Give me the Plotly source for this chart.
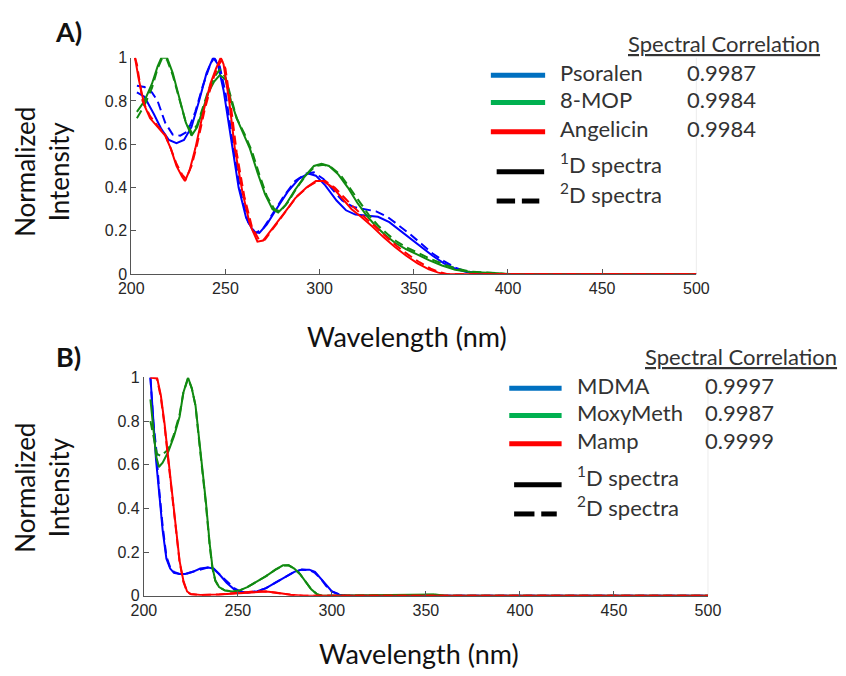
import plotly.graph_objects as go

# ---------------- DATA ----------------
ticks_x = [200, 250, 300, 350, 400, 450, 500]
ticks_y = [0, 0.2, 0.4, 0.6, 0.8, 1]
ticks_y_text = ["0", "0.2", "0.4", "0.6", "0.8", "1"]

# Panel A
psoralen_1d_wl = [203, 207, 212, 216, 220, 224, 228, 232, 236, 240, 243.5, 246, 249, 253, 257, 261, 265, 268, 272, 277, 283, 289, 294, 298, 303, 309, 314, 319, 325, 331, 337, 343, 349, 354, 360, 366, 372, 378, 385, 395, 500]
psoralen_1d = [0.84, 0.82, 0.74, 0.67, 0.62, 0.605, 0.62, 0.68, 0.80, 0.93, 1.0, 0.97, 0.85, 0.62, 0.40, 0.26, 0.195, 0.19, 0.23, 0.30, 0.38, 0.44, 0.465, 0.455, 0.41, 0.34, 0.295, 0.275, 0.27, 0.265, 0.24, 0.20, 0.16, 0.125, 0.085, 0.05, 0.025, 0.01, 0.003, 0, 0]
psoralen_2d_wl = [203, 207, 211, 214, 218, 222, 226, 230, 234, 238, 242, 244, 247, 250, 254, 258, 262, 266, 270, 275, 281, 287, 293, 297, 302, 307, 312, 318, 324, 330, 336, 342, 348, 354, 360, 366, 372, 378, 386, 395, 500]
psoralen_2d = [0.87, 0.865, 0.84, 0.80, 0.70, 0.645, 0.64, 0.66, 0.75, 0.87, 0.97, 1.0, 0.96, 0.84, 0.60, 0.38, 0.24, 0.19, 0.21, 0.28, 0.36, 0.43, 0.465, 0.47, 0.44, 0.39, 0.34, 0.31, 0.30, 0.29, 0.265, 0.225, 0.185, 0.14, 0.095, 0.06, 0.03, 0.012, 0.003, 0, 0]

mop_1d_wl = [203, 207, 211, 214, 216, 219, 222, 226, 229, 232, 235, 238, 241, 244, 247, 250, 253, 256, 259, 263, 267, 271, 275, 278, 282, 287, 292, 297, 301, 305, 310, 315, 320, 325, 330, 335, 340, 346, 352, 358, 365, 372, 380, 388, 395, 400, 500]
mop_1d = [0.75, 0.80, 0.88, 0.96, 1.0, 1.0, 0.93, 0.80, 0.70, 0.64, 0.68, 0.76, 0.84, 0.89, 0.92, 0.90, 0.80, 0.72, 0.66, 0.58, 0.47, 0.37, 0.30, 0.285, 0.32, 0.39, 0.45, 0.50, 0.51, 0.50, 0.46, 0.40, 0.33, 0.27, 0.22, 0.18, 0.145, 0.115, 0.09, 0.065, 0.04, 0.02, 0.01, 0.008, 0.004, 0, 0]
mop_2d_wl = [203, 207, 211, 214, 216.5, 219, 222, 226, 229, 232, 235, 238, 241, 244, 247, 250, 253, 256, 260, 264, 268, 272, 276, 279, 283, 288, 293, 298, 302, 306, 311, 316, 321, 326, 331, 336, 341, 347, 353, 359, 366, 373, 380, 388, 396, 402, 500]
mop_2d = [0.72, 0.78, 0.86, 0.95, 1.0, 0.99, 0.92, 0.79, 0.70, 0.655, 0.69, 0.77, 0.85, 0.91, 0.945, 0.91, 0.81, 0.72, 0.65, 0.57, 0.46, 0.36, 0.30, 0.29, 0.33, 0.40, 0.46, 0.50, 0.505, 0.495, 0.46, 0.40, 0.335, 0.275, 0.225, 0.185, 0.15, 0.12, 0.095, 0.07, 0.045, 0.025, 0.012, 0.008, 0.005, 0, 0]

angelicin_1d_wl = [202, 204, 207, 210, 214, 218, 221, 224, 227, 228.5, 231, 234, 238, 242, 245, 247.5, 249, 252, 255, 259, 263, 267, 270, 275, 281, 287, 293, 298, 302, 307, 312, 317, 322, 328, 334, 340, 346, 352, 358, 363, 367, 500]
angelicin_1d = [1.0, 0.90, 0.78, 0.72, 0.68, 0.64, 0.58, 0.50, 0.45, 0.43, 0.48, 0.58, 0.74, 0.88, 0.95, 1.0, 0.97, 0.80, 0.58, 0.38, 0.23, 0.15, 0.155, 0.21, 0.28, 0.35, 0.40, 0.43, 0.43, 0.40, 0.35, 0.30, 0.265, 0.22, 0.17, 0.125, 0.085, 0.05, 0.022, 0.007, 0, 0]
angelicin_2d_wl = [202, 203, 206, 210, 214, 218, 221, 224, 227, 229, 232, 235, 239, 243, 246, 248, 250, 253, 256, 260, 264, 268, 271, 276, 282, 288, 294, 299, 303, 308, 313, 318, 323, 329, 335, 341, 347, 353, 359, 364, 368, 500]
angelicin_2d = [1.0, 0.97, 0.80, 0.73, 0.685, 0.645, 0.58, 0.51, 0.46, 0.44, 0.50, 0.60, 0.76, 0.89, 0.96, 0.99, 0.95, 0.77, 0.56, 0.36, 0.22, 0.155, 0.16, 0.22, 0.29, 0.36, 0.405, 0.43, 0.43, 0.40, 0.355, 0.31, 0.27, 0.225, 0.175, 0.13, 0.09, 0.055, 0.025, 0.008, 0, 0]

# Panel B
mdma_1d_wl = [203.5, 205, 206.5, 208.5, 210, 212, 214, 216, 219, 222, 226, 230, 234, 237, 240, 244, 248, 251, 255, 260, 265, 270, 275, 280, 284, 288, 291, 294, 297, 300, 304, 308, 500]
mdma_1d = [1.0, 0.82, 0.62, 0.44, 0.30, 0.17, 0.125, 0.105, 0.10, 0.10, 0.11, 0.125, 0.13, 0.125, 0.10, 0.06, 0.03, 0.02, 0.015, 0.02, 0.035, 0.06, 0.085, 0.11, 0.12, 0.12, 0.11, 0.08, 0.045, 0.02, 0.005, 0, 0]
mdma_2d_wl = [203.5, 205, 206.5, 208, 210, 212, 214, 216, 219, 222, 226, 230, 234, 237, 240, 244, 248, 251, 255, 260, 265, 270, 275, 280, 284, 288, 291, 294, 297, 300, 304, 308, 500]
mdma_2d = [1.0, 0.80, 0.68, 0.50, 0.32, 0.18, 0.13, 0.11, 0.10, 0.10, 0.11, 0.12, 0.13, 0.125, 0.10, 0.065, 0.035, 0.022, 0.015, 0.02, 0.035, 0.06, 0.085, 0.11, 0.12, 0.118, 0.105, 0.08, 0.045, 0.02, 0.006, 0, 0]

moxy_1d_wl = [203.5, 205, 206.5, 208, 210, 213, 216, 219, 221, 223.5, 225.5, 227.5, 229, 231, 233, 235, 236.5, 238, 240, 243, 247, 251, 255, 260, 265, 270, 274, 277, 280, 283, 286, 289, 292, 295, 355, 360, 500]
moxy_1d = [0.90, 0.78, 0.64, 0.59, 0.61, 0.66, 0.73, 0.82, 0.93, 1.0, 0.95, 0.87, 0.75, 0.60, 0.43, 0.24, 0.13, 0.07, 0.04, 0.025, 0.02, 0.025, 0.04, 0.065, 0.09, 0.12, 0.14, 0.14, 0.125, 0.10, 0.065, 0.03, 0.008, 0, 0.006, 0, 0]
moxy_2d_wl = [203.5, 205, 207, 209, 211, 213, 216, 219, 221, 223.5, 225.5, 227.5, 229, 231, 233, 235, 236.5, 238, 240, 243, 247, 251, 255, 260, 265, 270, 274, 277, 280, 283, 286, 289, 292, 295, 355, 360, 500]
moxy_2d = [0.80, 0.73, 0.65, 0.64, 0.655, 0.67, 0.74, 0.83, 0.93, 0.995, 0.95, 0.87, 0.74, 0.59, 0.42, 0.23, 0.125, 0.07, 0.04, 0.025, 0.02, 0.025, 0.04, 0.065, 0.09, 0.12, 0.138, 0.14, 0.125, 0.10, 0.065, 0.03, 0.008, 0, 0.005, 0, 0]

mamp_1d_wl = [203.5, 207, 209, 211, 213, 215, 217, 219, 221, 223, 225, 230, 240, 250, 260, 265, 270, 278, 285, 500]
mamp_1d = [1.0, 1.0, 0.92, 0.79, 0.63, 0.47, 0.30, 0.16, 0.07, 0.02, 0.008, 0.004, 0.006, 0.012, 0.02, 0.02, 0.015, 0.005, 0, 0]
mamp_2d_wl = [203.5, 207, 209, 211, 213, 215, 217, 219, 221, 223, 225, 230, 240, 250, 260, 265, 270, 278, 285, 500]
mamp_2d = [1.0, 0.995, 0.91, 0.78, 0.62, 0.46, 0.29, 0.155, 0.065, 0.018, 0.007, 0.004, 0.006, 0.013, 0.021, 0.02, 0.014, 0.005, 0, 0]

names_a = ["Psoralen", "8-MOP", "Angelicin"]
corr_a = ["0.9987", "0.9984", "0.9984"]
names_b = ["MDMA", "MoxyMeth", "Mamp"]
corr_b = ["0.9997", "0.9987", "0.9999"]

# ---------------- STYLE ----------------
W, H = 846, 676
PLOT_COL = ["#0000ff", "#118a11", "#ff0000"]
LEG_COL = ["#0070c0", "#00b050", "#ff0000"]
TXT_FONT = "Lato"
TICK_FONT = dict(family="Liberation Sans", size=16, color="#262626")

def px(x):
    return x / W

def py(y):
    return 1 - y / H

fig = go.Figure()

series_a = [
    (psoralen_1d_wl, psoralen_1d, psoralen_2d_wl, psoralen_2d),
    (mop_1d_wl, mop_1d, mop_2d_wl, mop_2d),
    (angelicin_1d_wl, angelicin_1d, angelicin_2d_wl, angelicin_2d),
]
series_b = [
    (mdma_1d_wl, mdma_1d, mdma_2d_wl, mdma_2d),
    (moxy_1d_wl, moxy_1d, moxy_2d_wl, moxy_2d),
    (mamp_1d_wl, mamp_1d, mamp_2d_wl, mamp_2d),
]

for i, (x1, y1, x2, y2) in enumerate(series_a):
    fig.add_trace(go.Scatter(x=x1, y=y1, mode="lines", xaxis="x", yaxis="y",
                             line=dict(color=PLOT_COL[i], width=2), showlegend=False))
    fig.add_trace(go.Scatter(x=x2, y=y2, mode="lines", xaxis="x", yaxis="y",
                             line=dict(color=PLOT_COL[i], width=2, dash="9px,5px"), showlegend=False))
for i, (x1, y1, x2, y2) in enumerate(series_b):
    fig.add_trace(go.Scatter(x=x1, y=y1, mode="lines", xaxis="x2", yaxis="y2",
                             line=dict(color=PLOT_COL[i], width=2), showlegend=False))
    fig.add_trace(go.Scatter(x=x2, y=y2, mode="lines", xaxis="x2", yaxis="y2",
                             line=dict(color=PLOT_COL[i], width=2, dash="9px,5px"), showlegend=False))

axis_common = dict(
    range=[200, 500], tickvals=ticks_x, ticks="inside", ticklen=5, tickcolor="#555",
    showline=True, linecolor="#555", linewidth=1, showgrid=False, zeroline=False,
    tickfont=TICK_FONT, fixedrange=True,
)
yaxis_common = dict(
    range=[0, 1], tickvals=ticks_y, ticktext=ticks_y_text, ticks="inside", ticklen=5,
    tickcolor="#555", showline=True, linecolor="#555", linewidth=1, showgrid=False,
    zeroline=False, tickfont=TICK_FONT, fixedrange=True,
)

fig.update_layout(
    width=W, height=H, margin=dict(l=0, r=0, t=0, b=0),
    paper_bgcolor="white", plot_bgcolor="white", showlegend=False,
    xaxis=dict(domain=[px(122), px(705)], anchor="y", **axis_common),
    yaxis=dict(domain=[py(273), py(51)], anchor="x", **yaxis_common),
    xaxis2=dict(domain=[px(135), px(717)], anchor="y2", **axis_common),
    yaxis2=dict(domain=[py(603), py(379)], anchor="x2", **yaxis_common),
)

annotations = []
shapes = []

# faint right edge of each axes box
for xr, yr in [("x domain", "y domain"), ("x2 domain", "y2 domain")]:
    shapes.append(dict(type="line", xref=xr, yref=yr, x0=1, x1=1, y0=0, y1=1,
                       line=dict(color="#ececec", width=1), layer="below"))

def txt(x, y, text, size=22, color="#333", xanchor="left", angle=0):
    annotations.append(dict(
        x=px(x), y=py(y), xref="paper", yref="paper", text=text, showarrow=False,
        xanchor=xanchor, yanchor="middle", textangle=angle,
        font=dict(family=TXT_FONT, size=size, color=color)))

# Panel labels
txt(57, 24, "<b>A)</b>", size=27, color="#111", xanchor="center")
txt(57, 357, "<b>B)</b>", size=27, color="#111", xanchor="center")

# Axis titles
txt(407, 337, "Wavelength (nm)", size=27, color="#111", xanchor="center")
txt(419, 662, "Wavelength (nm)", size=27, color="#111", xanchor="center")
txt(30, 168, "Normalized<br>Intensity", size=26, color="#111", xanchor="center", angle=-90)
txt(30, 492, "Normalized<br>Intensity", size=26, color="#111", xanchor="center", angle=-90)

def legend(names, corrs, title_x, title_y, line_x0, line_x1, rows_y, text_x, val_x,
           blk_x0, blk_x1, blk_y, dash_y, dash_mid):
    txt(title_x, title_y, "<u>Spectral Correlation</u>", size=22, xanchor="left")
    for i, (n, c) in enumerate(zip(names, corrs)):
        shapes.append(dict(type="line", xref="paper", yref="paper",
                           x0=px(line_x0), x1=px(line_x1), y0=py(rows_y[i]), y1=py(rows_y[i]),
                           line=dict(color=LEG_COL[i], width=5)))
        txt(text_x, rows_y[i] - 3, n)
        txt(val_x, rows_y[i] - 3, c)
    shapes.append(dict(type="line", xref="paper", yref="paper",
                       x0=px(blk_x0), x1=px(blk_x1), y0=py(blk_y), y1=py(blk_y),
                       line=dict(color="black", width=5)))
    shapes.append(dict(type="line", xref="paper", yref="paper",
                       x0=px(blk_x0), x1=px(dash_mid - 3), y0=py(dash_y), y1=py(dash_y),
                       line=dict(color="black", width=5)))
    shapes.append(dict(type="line", xref="paper", yref="paper",
                       x0=px(dash_mid + 4), x1=px(blk_x1 - 5), y0=py(dash_y), y1=py(dash_y),
                       line=dict(color="black", width=5)))
    txt(text_x, blk_y - 8, "<sup>1</sup>D spectra")
    txt(text_x, dash_y - 8, "<sup>2</sup>D spectra")

legend(names_a, corr_a, 632, 36, 493, 549, [69, 97, 127], 562, 693, 499, 548, 168, 198, 521)
legend(names_b, corr_b, 650, 357, 512, 566, [390, 418, 447], 580, 712, 517, 566, 489, 519, 541)

fig.update_layout(annotations=annotations, shapes=shapes)
fig.write_html("out.html")
